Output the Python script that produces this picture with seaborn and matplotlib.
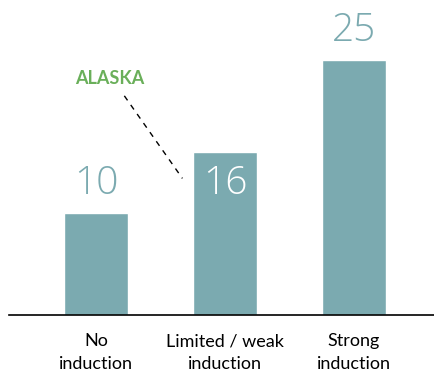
import seaborn as sns
import pandas as pd
import matplotlib.pyplot as plt

categories = ['No\ninduction', 'Limited / weak\ninduction', 'Strong\ninduction']
values = [10, 16, 25]
bar_color = '#7BAAB0'

df = pd.DataFrame({'cat': categories, 'val': values})

sns.set_style('white')
plt.rcParams['font.family'] = ['Lato', 'DejaVu Sans']

fig = plt.figure(figsize=(4.35, 3.8), dpi=100)
ax = fig.add_axes([9 / 435, 65 / 380, 426 / 435, 315 / 380])
sns.barplot(data=df, x='cat', y='val', color=bar_color, saturation=1, width=0.5, ax=ax)

ax.set_xlim(-0.674, 2.628)
ax.set_ylim(0, 30.9)
for s in ['top', 'right', 'left']:
    ax.spines[s].set_visible(False)
ax.spines['bottom'].set_color('black')
ax.spines['bottom'].set_linewidth(1.2)
ax.set_yticks([])
ax.set_xlabel('')
ax.set_ylabel('')
ax.tick_params(axis='x', length=0, pad=13, labelsize=13, colors='black')
for lab in ax.get_xticklabels():
    lab.set_linespacing(1.5)

# value labels: above for 10 and 25, inside for 16
for i, v in enumerate(values):
    if i == 1:
        ax.text(i, v - 1.2, str(v), ha='center', va='top', fontsize=28,
                color='white', fontweight='light', family=['Open Sans', 'DejaVu Sans'])
    else:
        ax.text(i, v + 1.0, str(v), ha='center', va='bottom', fontsize=28,
                color=bar_color, fontweight='light', family=['Open Sans', 'DejaVu Sans'])

# Alaska annotation
ax.text(-0.16, 23.2, 'ALASKA', ha='left', va='center', fontsize=13,
        fontweight='bold', color='#6AAF5A')
ax.plot([0.22, 0.67], [21.5, 13.4], color='black', linestyle=(0, (4, 4)), linewidth=1)

plt.savefig('out.png', dpi=100)
